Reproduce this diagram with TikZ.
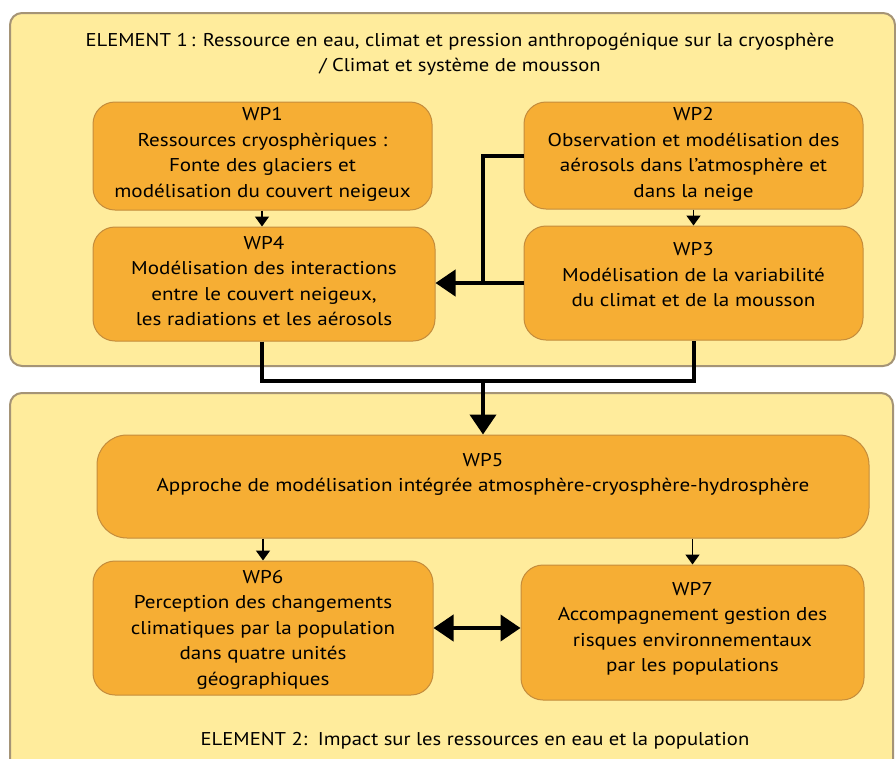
\documentclass[tikz,border=0pt]{standalone}
\usepackage{fontspec}
\setmainfont[FakeStretch=1.14]{PT Sans}
\newfontfamily\titlefont[FakeStretch=1.115]{PT Sans}
\usetikzlibrary{arrows.meta}
\definecolor{paleY}{RGB}{255,236,156}
\definecolor{outerB}{RGB}{165,148,118}
\definecolor{wpfill}{RGB}{246,174,52}
\definecolor{wpline}{RGB}{196,140,60}
\tikzset{
  panel/.style={draw=outerB, line width=2pt, fill=paleY, rounded corners=12pt},
  wpbox/.style={draw=wpline, line width=1pt, fill=wpfill, rounded corners=22pt, inner sep=0pt},
  wptext/.style={align=center, font=\fontsize{18.5}{25.5}\selectfont, inner sep=0pt},
  titletext/.style={align=center, font=\titlefont\fontsize{18.5}{25}\selectfont, inner sep=0pt},
  bigline/.style={line width=4pt},
  thinline/.style={line width=1.6pt},
  bigtip/.style={-{Triangle[length=20pt,width=26pt]}},
  smalltip/.style={-{Triangle[length=10pt,width=14pt]}},
}
\begin{document}
\begin{tikzpicture}[x=1pt,y=-1pt]
\useasboundingbox (0,0) rectangle (896,758);
\clip (0,0) rectangle (896,758);
\fill[white] (0,0) rectangle (896,758);
% panels
\draw[panel] (10,13) rectangle (895,366);
\draw[panel] (10,393) rectangle (893,790);
\node[titletext] (t1) at (460,54.5) {ELEMENT 1\,: Ressource en eau, climat et pression anthropogénique sur la cryosphère\\/ Climat et système de mousson};
\node[titletext] (t2) at (475,741) {ELEMENT 2:\, Impact sur les ressources en eau et la population};
% WP boxes
\node[wpbox, minimum width=339pt, minimum height=108pt] (wp1) at (262.5,156) {};
\node[wpbox, minimum width=342pt, minimum height=114pt] (wp4) at (264,284) {};
\node[wpbox, minimum width=339pt, minimum height=107pt] (wp2) at (693.5,155.5) {};
\node[wpbox, minimum width=339pt, minimum height=114pt] (wp3) at (693.5,283) {};
\node[wpbox, minimum width=772pt, minimum height=103pt, rounded corners=30pt] (wp5) at (483,486.5) {};
\node[wpbox, minimum width=340pt, minimum height=134pt] (wp6) at (263,628) {};
\node[wpbox, minimum width=343pt, minimum height=135pt] (wp7) at (692.5,632.5) {};
% texts
\node[wptext] (wp1t) at (262.5,154.5) {WP1\\Ressources cryosphèriques :\\Fonte des glaciers et\\modélisation du couvert neigeux};
\node[wptext] (wp4t) at (264,281) {WP4\\Modélisation des interactions\\entre le couvert neigeux,\\les radiations et les aérosols};
\node[wptext] (wp2t) at (693.5,154.5) {WP2\\Observation et modélisation des\\aérosols dans l’atmosphère et\\dans la neige};
\node[wptext] (wp3t) at (693.5,275) {WP3\\Modélisation de la variabilité\\du climat et de la mousson};
\node[wptext] (wp5t) at (483,474.5) {WP5\\Approche de modélisation intégrée atmosphère-cryosphère-hydrosphère};
\node[wptext] (wp6t) at (263,629.5) {WP6\\Perception des changements\\climatiques par la population\\dans quatre unités\\géographiques};
\node[wptext] (wp7t) at (692.5,629) {WP7\\Accompagnement gestion des\\risques environnementaux\\par les populations};
% connectors
\coordinate (j) at (483,283);
\coordinate (m) at (483,381);
\draw[thinline, smalltip] (wp1.south -| 262,0) -- (wp4.north -| 262,0);
\draw[thinline, smalltip] (wp2.south) -- (wp3.north);
\draw[bigline] (wp2.west) -| (j);
\draw[bigline, bigtip] (wp3.west) -- (wp3.west -| wp4.east);
\draw[bigline] (wp4.south -| 262,0) |- (m) -| (wp3.south);
\draw[bigline, bigtip] (m) -- (wp5.north);
\draw[thinline, smalltip] (wp5.south -| wp6.north) -- (wp6.north);
\draw[thinline, smalltip] (wp5.south -| wp7.north) -- (wp7.north);
\draw[bigline, {Triangle[length=20pt,width=26pt]}-{Triangle[length=20pt,width=26pt]}] (wp6.east |- 0,628) -- (wp7.west |- 0,628);
\end{tikzpicture}
\end{document}
